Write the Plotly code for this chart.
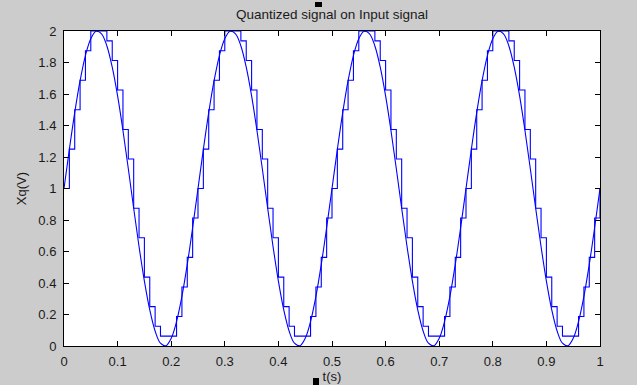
import plotly.graph_objects as go

# time samples (s), step 0.01 s from 0 to 1
t = [i / 100 for i in range(101)]

# input signal samples (V)
x_in = [
    1.0, 1.2487, 1.4818, 1.6845, 1.8443, 1.9511, 1.9980, 1.9823, 1.9048, 1.7705,
    1.5878, 1.3681, 1.1253, 0.8747, 0.6319, 0.4122, 0.2295, 0.0952, 0.0177, 0.0020,
    0.0489, 0.1557, 0.3155, 0.5182, 0.7513,
    1.0, 1.2487, 1.4818, 1.6845, 1.8443, 1.9511, 1.9980, 1.9823, 1.9048, 1.7705,
    1.5878, 1.3681, 1.1253, 0.8747, 0.6319, 0.4122, 0.2295, 0.0952, 0.0177, 0.0020,
    0.0489, 0.1557, 0.3155, 0.5182, 0.7513,
    1.0, 1.2487, 1.4818, 1.6845, 1.8443, 1.9511, 1.9980, 1.9823, 1.9048, 1.7705,
    1.5878, 1.3681, 1.1253, 0.8747, 0.6319, 0.4122, 0.2295, 0.0952, 0.0177, 0.0020,
    0.0489, 0.1557, 0.3155, 0.5182, 0.7513,
    1.0, 1.2487, 1.4818, 1.6845, 1.8443, 1.9511, 1.9980, 1.9823, 1.9048, 1.7705,
    1.5878, 1.3681, 1.1253, 0.8747, 0.6319, 0.4122, 0.2295, 0.0952, 0.0177, 0.0020,
    0.0489, 0.1557, 0.3155, 0.5182, 0.7513,
    1.0,
]

# quantized signal samples (V)
x_q = [
    1.0, 1.25, 1.5, 1.6875, 1.875, 2.0, 2.0, 2.0, 1.9375, 1.8125,
    1.625, 1.375, 1.1875, 0.875, 0.6875, 0.4375, 0.25, 0.125, 0.0625, 0.0625,
    0.0625, 0.1875, 0.375, 0.5625, 0.8125,
    1.0, 1.25, 1.5, 1.6875, 1.875, 2.0, 2.0, 2.0, 1.9375, 1.8125,
    1.625, 1.375, 1.1875, 0.875, 0.6875, 0.4375, 0.25, 0.125, 0.0625, 0.0625,
    0.0625, 0.1875, 0.375, 0.5625, 0.8125,
    1.0, 1.25, 1.5, 1.6875, 1.875, 2.0, 2.0, 2.0, 1.9375, 1.8125,
    1.625, 1.375, 1.1875, 0.875, 0.6875, 0.4375, 0.25, 0.125, 0.0625, 0.0625,
    0.0625, 0.1875, 0.375, 0.5625, 0.8125,
    1.0, 1.25, 1.5, 1.6875, 1.875, 2.0, 2.0, 2.0, 1.9375, 1.8125,
    1.625, 1.375, 1.1875, 0.875, 0.6875, 0.4375, 0.25, 0.125, 0.0625, 0.0625,
    0.0625, 0.1875, 0.375, 0.5625, 0.8125,
    1.0,
]

x_ticks = [0, 0.1, 0.2, 0.3, 0.4, 0.5, 0.6, 0.7, 0.8, 0.9, 1]
x_labels = ["0", "0.1", "0.2", "0.3", "0.4", "0.5", "0.6", "0.7", "0.8", "0.9", "1"]
y_ticks = [0, 0.2, 0.4, 0.6, 0.8, 1.0, 1.2, 1.4, 1.6, 1.8, 2.0]
y_labels = ["0", "0.2", "0.4", "0.6", "0.8", "1", "1.2", "1.4", "1.6", "1.8", "2"]

fig = go.Figure()
fig.add_trace(go.Scatter(x=t, y=x_q, mode="lines", line=dict(color="#0000FF", width=1.1, shape="hv"),
                         name="Quantized", showlegend=False))
fig.add_trace(go.Scatter(x=t, y=x_in, mode="lines", line=dict(color="#0000FF", width=1.1, shape="spline"),
                         name="Input", showlegend=False))

font = dict(family="Liberation Sans, Arial, sans-serif", size=13, color="#1a1a1a")
title_font = dict(family="Liberation Sans, Arial, sans-serif", size=13, color="#1a1a1a")

fig.update_layout(
    width=637, height=385,
    margin=dict(l=64, r=37, t=31, b=39),
    paper_bgcolor="#CCCCCC",
    plot_bgcolor="#FFFFFF",
    font=font,
    title=dict(text="Quantized signal on Input signal", xref="paper", x=0.5, xanchor="center",
               y=1 - 14 / 385, yanchor="middle",
               font=dict(family="Liberation Sans, Arial, sans-serif", size=13.5, color="#1a1a1a")),
    xaxis=dict(range=[0, 1], tickvals=x_ticks, ticktext=x_labels, ticks="inside", ticklen=5,
               tickcolor="black", showline=True, linecolor="black", linewidth=1, mirror="ticks",
               showgrid=False, zeroline=False, automargin=False,
               title=dict(text="t(s)", standoff=3, font=title_font),
               ticklabelstandoff=3),
    yaxis=dict(range=[0, 2], tickvals=y_ticks, ticktext=y_labels, ticks="inside", ticklen=5,
               tickcolor="black", showline=True, linecolor="black", linewidth=1, mirror="ticks",
               showgrid=False, zeroline=False, automargin=False,
               title=dict(text="Xq(V)", standoff=8, font=title_font),
               ticklabelstandoff=4),
    shapes=[
        dict(type="rect", xref="paper", yref="paper", x0=(315 - 64) / 536, x1=(322 - 64) / 536,
             y0=1 + (31 - 7) / 315, y1=1 + (31 - 2) / 315, fillcolor="black", line=dict(width=0)),
        dict(type="rect", xref="paper", yref="paper", x0=(313 - 64) / 536, x1=(319 - 64) / 536,
             y0=-(385 - 346) / 315, y1=-(378 - 346) / 315, fillcolor="black", line=dict(width=0)),
    ],
)

fig.write_html("out.html")
